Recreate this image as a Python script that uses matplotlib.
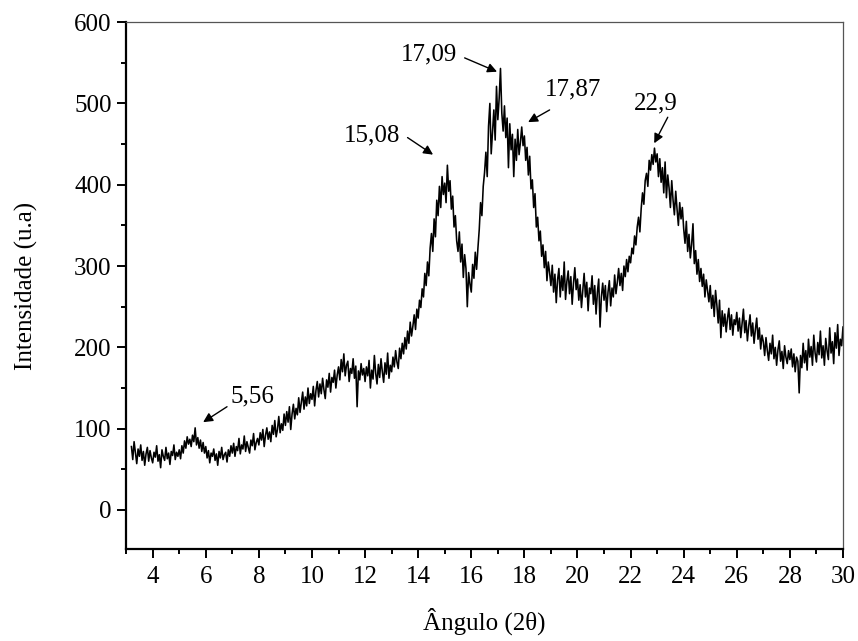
import numpy as np
import matplotlib
matplotlib.use("Agg")
import matplotlib.pyplot as plt
from matplotlib.ticker import MultipleLocator

plt.rcParams["font.family"] = "serif"
plt.rcParams["font.serif"] = ["Liberation Serif", "DejaVu Serif"]
plt.rcParams["font.size"] = 18

# --- diffractogram, 2theta step 0.05 starting at 3.20 ---
two_theta_start = 3.2
two_theta_step = 0.05

intensity = [
    # 3.20 - 3.95
    78, 62, 84, 70, 57, 75, 66, 80, 61, 72, 55, 69, 77, 60, 73, 64,
    # 4
    58, 71, 65, 79, 60, 68, 52, 74, 66, 61, 77, 63, 70, 56, 72, 67, 80, 62, 71, 66,
    # 5
    74, 63, 79, 70, 85, 76, 90, 81, 87, 78, 92, 84, 101, 80, 89, 76, 86, 72, 83, 70,
    # 6
    78, 64, 73, 58, 70, 66, 75, 61, 69, 55, 72, 64, 77, 62, 68, 71, 59, 74, 66, 79,
    # 7
    70, 82, 66, 78, 73, 88, 69, 80, 75, 91, 72, 84, 77, 70, 86, 79, 94, 74, 83, 88,
    # 8
    80, 95, 86, 99, 78, 92, 101, 87, 96, 84, 104, 93, 110, 90, 99, 115, 95, 106, 98, 118,
    # 9
    104, 121, 108, 127, 99, 118, 130, 112, 125, 117, 138, 120, 133, 145, 124, 139, 128, 150, 131, 143,
    # 10
    136, 152, 128, 147, 158, 139, 155, 143, 162, 148, 137, 160, 151, 168, 145, 163, 157, 172, 150, 166,
    # 11
    176, 160, 185, 170, 192, 165, 178, 183, 158, 174, 168, 186, 162, 177, 127, 171, 160, 180, 166, 174,
    # 12
    158, 176, 165, 184, 150, 172, 161, 190, 168, 155, 179, 163, 186, 170, 157, 181, 167, 193, 162, 178,
    # 13
    170, 188, 176, 196, 182, 174, 199, 186, 205, 192, 212, 198, 220, 205, 231, 214, 226, 240, 222, 247,
    # 14
    236, 258, 249, 272, 262, 291, 276, 305, 288, 322, 340, 318, 358, 336, 381, 362, 398, 372, 410, 388,
    # 15
    402, 378, 424, 392, 405, 370, 386, 348, 362, 331, 318, 342, 305, 327, 286, 314, 297, 250, 292, 278,
    # 16
    268, 302, 285, 317, 296, 322, 345, 378, 362, 398, 415, 440, 410, 472, 500, 438, 465, 492, 455, 521,
    # 17
    480, 506, 543, 488, 466, 497, 458, 482, 421, 475, 443, 462, 410, 456, 430, 468, 437, 452, 471, 448,
    # 18
    460, 430, 446, 412, 435, 395, 406, 372, 389, 348, 360, 331, 343, 312, 326, 298, 318, 282, 305, 292,
    # 19
    276, 301, 268, 290, 255, 283, 297, 262, 288, 270, 305, 259, 281, 294, 266, 287, 253, 279, 298, 271,
    # 20
    284, 258, 277, 249, 270, 291, 262, 280, 245, 273, 266, 288, 253, 276, 241, 268, 284, 225, 262, 279,
    # 21
    258, 276, 244, 268, 282, 251, 273, 262, 289, 266, 280, 297, 276, 291, 270, 300, 287, 308, 293, 312,
    # 22
    304, 322, 315, 337, 326, 348, 360, 342, 371, 390, 376, 405, 414, 398, 430, 418, 437, 425, 445, 428,
    # 23
    438, 410, 432, 403, 421, 390, 428, 384, 412, 396, 372, 405, 381, 363, 392, 370, 350, 378, 358, 372,
    # 24
    346, 328, 355, 318, 339, 310, 327, 352, 303, 319, 290, 308, 281, 297, 275, 290, 262, 283, 270, 256,
    # 25
    276, 248, 264, 238, 270, 252, 230, 258, 212, 245, 226, 241, 219, 236, 248, 222, 240, 215, 234, 228,
    # 26
    243, 220, 236, 212, 229, 247, 218, 233, 208, 226, 240, 214, 230, 205, 222, 236, 210, 224, 198, 215,
    # 27
    207, 190, 212, 196, 184, 205, 192, 215, 186, 200, 178, 197, 208, 183, 195, 174, 202, 188, 180, 196,
    # 28
    185, 198, 176, 192, 170, 188, 183, 144, 190, 175, 205, 181, 196, 172, 210, 188, 201, 178, 215, 193,
    # 29
    182, 206, 191, 220, 187, 202, 178, 211, 196, 185, 224, 193, 207, 180, 218, 199, 228, 190, 210, 202,
    # 30
    225,
]

# peak labels: (label, arrow tip x, arrow tip y, text x, text y)
peak_labels = ["5,56", "15,08", "17,09", "17,87", "22,9"]
tip_xy = [(5.9, 108), (14.56, 437), (16.97, 539), (18.14, 477), (22.89, 451)]
tail_xy = [(6.8, 127), (13.6, 458), (15.75, 556), (18.95, 492), (23.4, 483)]
text_xy = [(7.75, 140), (12.27, 461), (14.41, 560), (19.84, 517), (22.96, 500)]

y = np.array(intensity, dtype=float)
x = two_theta_start + two_theta_step * np.arange(len(y))

fig = plt.figure(figsize=(8.58, 6.41), dpi=100)
ax = fig.add_axes([0.147, 0.1435, 0.8355, 0.822])

ax.plot(x, y, color="black", lw=1.15)

for lab, tip, tail, txt in zip(peak_labels, tip_xy, tail_xy, text_xy):
    ax.annotate("", xy=tip, xytext=tail,
                arrowprops=dict(arrowstyle="-|>", color="black", lw=1.0,
                                mutation_scale=14, shrinkA=0, shrinkB=0))
    ax.text(txt[0], txt[1], lab, ha="center", va="center", fontsize=18)

ax.set_xlim(3, 30)
ax.set_ylim(-48, 600)
ax.xaxis.set_major_locator(MultipleLocator(2))
ax.xaxis.set_minor_locator(MultipleLocator(1))
ax.yaxis.set_major_locator(MultipleLocator(100))
ax.yaxis.set_minor_locator(MultipleLocator(50))
ax.set_xticks(np.arange(4, 31, 2))

ax.tick_params(which="both", direction="out", width=1.4, top=False, right=False)
ax.tick_params(which="major", length=6.5, pad=4)
ax.tick_params(which="minor", length=3.6)
ax.tick_params(axis="x", which="major", pad=6)

for side in ["left", "bottom"]:
    ax.spines[side].set_linewidth(1.6)
for side in ["top", "right"]:
    ax.spines[side].set_linewidth(0.9)
    ax.spines[side].set_color("#555555")

ax.set_xlabel("Ângulo (2θ)", labelpad=14)
ax.set_ylabel("Intensidade (u.a)", labelpad=26)

fig.savefig("out.png", dpi=100)
